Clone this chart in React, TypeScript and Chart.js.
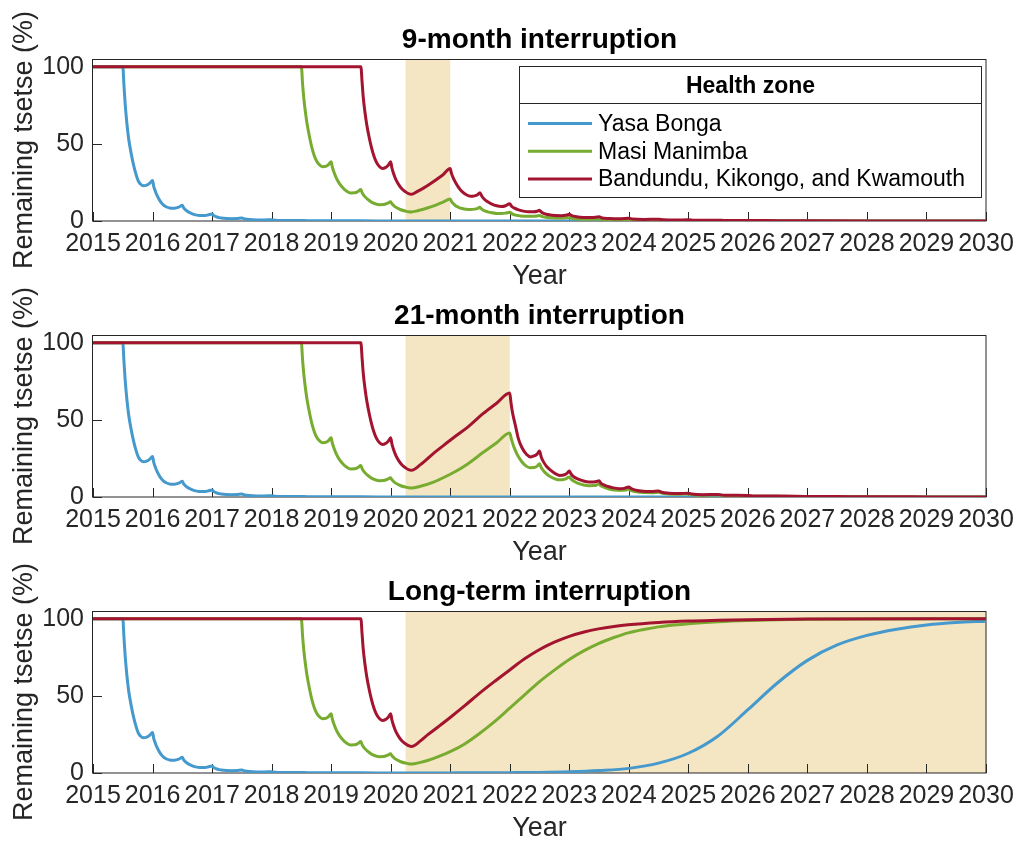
import React, { useEffect, useRef } from 'react';
import { Chart, registerables } from 'chart.js';

Chart.register(...registerables);

type Pt = [number, number];

// ---------- axis ticks and labels ----------
const YEAR_TICKS = [2015, 2016, 2017, 2018, 2019, 2020, 2021, 2022, 2023, 2024, 2025, 2026, 2027, 2028, 2029, 2030];
const PERCENT_TICKS = [0, 50, 100];
const ZONE_LABELS = ['Yasa Bonga', 'Masi Manimba', 'Bandundu, Kikongo, and Kwamouth'];
const LEGEND_TITLE = 'Health zone';
const PANEL_TITLES = ['9-month interruption', '21-month interruption', 'Long-term interruption'];
const X_TITLE = 'Year';
const Y_TITLE = 'Remaining tsetse (%)';

// interruption windows (years)
const INTERRUPTION_START = 2020.25;
const INTERRUPTION_ENDS = [2021.0, 2022.0, 2030.0];

// ---------- tsetse trajectories (% remaining) ----------
// Yasa Bonga under vector control until the interruption
const BLUE_CONTROLLED: Pt[] = [
  [2015, 100], [2015.5, 100], [2015.52, 88], [2015.54, 76], [2015.57, 63], [2015.6, 53], [2015.64, 44],
  [2015.68, 36.5], [2015.72, 30.5], [2015.76, 26], [2015.8, 23.8], [2015.85, 22.8], [2015.9, 23.2],
  [2015.95, 24.4], [2016.0, 26.2],
  [2016.02, 22.5], [2016.05, 19], [2016.08, 16.3], [2016.12, 13.4], [2016.17, 10.9], [2016.22, 9.4],
  [2016.28, 8.5], [2016.34, 8.2], [2016.4, 8.5], [2016.45, 9.1], [2016.5, 10.2],
  [2016.52, 8.7], [2016.56, 7.0], [2016.6, 5.9], [2016.66, 4.8], [2016.72, 4.0], [2016.79, 3.5],
  [2016.86, 3.5], [2016.93, 3.9], [2017.0, 4.6],
  [2017.03, 3.5], [2017.08, 2.6], [2017.15, 2.0], [2017.24, 1.6], [2017.33, 1.5], [2017.42, 1.6], [2017.5, 1.9],
  [2017.55, 1.3], [2017.63, 0.9], [2017.75, 0.7], [2017.88, 0.7], [2018.0, 0.85],
  [2018.06, 0.55], [2018.2, 0.35], [2018.4, 0.3], [2018.5, 0.38], [2018.6, 0.2], [2018.9, 0.15],
  [2019.0, 0.18], [2019.2, 0.1], [2019.5, 0.1], [2020.0, 0.05], [2020.25, 0.04],
];
const BLUE_RESUMED: Pt[] = [[2021, 0.03], [2024, 0.01], [2030, 0.0]];
const BLUE_NO_CONTROL: Pt[] = [
  [2020.5, 0.05], [2021, 0.08], [2021.5, 0.12], [2022, 0.22], [2022.5, 0.4], [2023, 0.8], [2023.5, 1.6],
  [2024, 3.0], [2024.5, 6.4], [2025, 12.8], [2025.5, 24], [2026, 41], [2026.5, 58.5], [2027, 73],
  [2027.5, 83], [2028, 89.2], [2028.5, 93.2], [2029, 95.9], [2029.5, 97.5], [2030, 98.4],
];

// Masi Manimba under vector control until the interruption
const GREEN_CONTROLLED: Pt[] = [
  [2015, 100], [2018.5, 100], [2018.52, 89], [2018.54, 80], [2018.57, 70], [2018.6, 62], [2018.64, 54],
  [2018.68, 47], [2018.72, 42], [2018.76, 38.6], [2018.81, 36.2], [2018.86, 35.2], [2018.92, 35.6],
  [2018.96, 36.7], [2019.0, 38.4],
  [2019.02, 35], [2019.05, 31.5], [2019.09, 27.6], [2019.14, 24.2], [2019.2, 21.4], [2019.26, 19.4],
  [2019.33, 18.2], [2019.4, 18.3], [2019.45, 19.1], [2019.5, 20.4],
  [2019.52, 18.4], [2019.56, 16.1], [2019.61, 14.1], [2019.67, 12.4], [2019.74, 11.2], [2019.81, 10.6],
  [2019.88, 10.7], [2019.94, 11.4], [2020.0, 12.5],
  [2020.02, 11.2], [2020.06, 9.7], [2020.11, 8.4], [2020.17, 7.3], [2020.25, 6.4],
];
const GREEN_AFTER_9M: Pt[] = [
  [2020.3, 6.0], [2020.35, 5.9], [2020.45, 6.6], [2020.55, 7.6], [2020.66, 9.0], [2020.77, 10.5],
  [2020.88, 12.2], [2021.0, 14.3],
  [2021.02, 12.8], [2021.05, 11.3], [2021.09, 9.9], [2021.14, 8.9], [2021.2, 8.1], [2021.27, 7.6],
  [2021.34, 7.4], [2021.41, 7.7], [2021.46, 8.2], [2021.5, 8.9],
  [2021.53, 7.7], [2021.57, 6.7], [2021.63, 5.9], [2021.7, 5.3], [2021.78, 4.9], [2021.86, 4.8],
  [2021.93, 5.1], [2022.0, 5.7],
  [2022.04, 4.6], [2022.1, 3.8], [2022.18, 3.3], [2022.28, 3.0], [2022.38, 3.0], [2022.45, 3.2], [2022.5, 3.6],
  [2022.55, 2.8], [2022.63, 2.2], [2022.75, 1.9], [2022.88, 1.9], [2023.0, 2.2],
  [2023.06, 1.6], [2023.2, 1.2], [2023.38, 1.1], [2023.5, 1.3],
  [2023.58, 0.9], [2023.8, 0.7], [2024.0, 0.8], [2024.1, 0.55], [2024.4, 0.45], [2024.5, 0.5],
  [2024.7, 0.3], [2025, 0.3], [2025.5, 0.18], [2026, 0.1], [2027, 0.05], [2030, 0.0],
];
const GREEN_AFTER_21M: Pt[] = [
  [2020.3, 6.0], [2020.35, 5.8], [2020.5, 7.0], [2020.72, 9.7], [2020.9, 12.8], [2021.11, 17.0],
  [2021.3, 21.6], [2021.55, 28.8], [2021.78, 35.2], [2022.0, 41.5],
  [2022.03, 37.2], [2022.06, 33.6], [2022.09, 30.5], [2022.13, 27.2], [2022.2, 23.0], [2022.27, 20.2],
  [2022.34, 19.0], [2022.41, 19.1], [2022.46, 20.0], [2022.5, 21.5],
  [2022.53, 19.0], [2022.57, 16.9], [2022.63, 14.6], [2022.7, 12.8], [2022.79, 11.4], [2022.87, 11.2],
  [2022.94, 11.8], [2023.0, 13.0],
  [2023.03, 11.6], [2023.08, 10.2], [2023.15, 8.8], [2023.24, 7.8], [2023.33, 7.3], [2023.41, 7.4],
  [2023.46, 7.8], [2023.5, 8.4],
  [2023.53, 7.3], [2023.59, 6.2], [2023.67, 5.2], [2023.77, 4.5], [2023.87, 4.3], [2023.94, 4.5], [2024.0, 5.0],
  [2024.04, 4.2], [2024.13, 3.4], [2024.25, 2.9], [2024.4, 2.8], [2024.5, 3.1],
  [2024.55, 2.5], [2024.67, 2.0], [2024.85, 1.8], [2025.0, 2.0],
  [2025.06, 1.5], [2025.25, 1.2], [2025.5, 1.25], [2025.6, 0.9], [2026.0, 0.8], [2026.1, 0.55],
  [2026.5, 0.5], [2027, 0.3], [2027.5, 0.2], [2028, 0.12], [2029, 0.05], [2030, 0.02],
];
const GREEN_NO_CONTROL: Pt[] = [
  [2020.3, 6.0], [2020.35, 5.8], [2020.5, 6.9], [2020.63, 8.3], [2020.8, 10.6], [2021.0, 13.8],
  [2021.25, 19.0], [2021.47, 25.0], [2021.75, 33.5], [2022.0, 42.0], [2022.25, 50.6], [2022.48, 58.6],
  [2022.75, 66.7], [2023.0, 73.6], [2023.25, 79.3], [2023.49, 83.9], [2023.75, 87.8], [2023.99, 90.8],
  [2024.25, 93.0], [2024.5, 94.7], [2024.75, 95.9], [2025.0, 96.8], [2025.5, 98.0], [2026.0, 98.8],
  [2026.5, 99.3], [2027, 99.6], [2028, 99.85], [2030, 100],
];

// Bandundu, Kikongo and Kwamouth under vector control until the interruption
const RED_CONTROLLED: Pt[] = [
  [2015, 100], [2019.5, 100], [2019.52, 90], [2019.54, 80], [2019.57, 70], [2019.6, 62], [2019.64, 54],
  [2019.68, 47.3], [2019.72, 42], [2019.76, 38.2], [2019.81, 35.3], [2019.86, 34.1], [2019.91, 34.6],
  [2019.96, 36.2], [2020.0, 38.4],
  [2020.02, 34.5], [2020.05, 30.6], [2020.09, 26.6], [2020.14, 23.3], [2020.2, 20.4], [2020.25, 18.9],
];
const RED_AFTER_9M: Pt[] = [
  [2020.3, 17.7], [2020.35, 17.3], [2020.45, 19.2], [2020.55, 21.3], [2020.66, 24.0], [2020.77, 26.9],
  [2020.88, 30.0], [2021.0, 34.0],
  [2021.02, 31.0], [2021.05, 28.0], [2021.09, 25.0], [2021.14, 21.8], [2021.2, 19.0], [2021.27, 17.0],
  [2021.34, 16.0], [2021.41, 16.3], [2021.46, 17.0], [2021.5, 18.3],
  [2021.53, 16.2], [2021.57, 14.3], [2021.63, 12.5], [2021.7, 11.0], [2021.78, 9.9], [2021.86, 9.4],
  [2021.93, 9.9], [2022.0, 11.2],
  [2022.03, 9.6], [2022.08, 8.3], [2022.15, 7.2], [2022.23, 6.4], [2022.32, 6.0], [2022.4, 6.0],
  [2022.46, 6.3], [2022.5, 6.9],
  [2022.53, 5.8], [2022.58, 4.8], [2022.66, 4.0], [2022.76, 3.5], [2022.87, 3.4], [2022.94, 3.7], [2023.0, 4.4],
  [2023.04, 3.5], [2023.12, 2.8], [2023.24, 2.3], [2023.38, 2.2], [2023.5, 2.7],
  [2023.55, 2.0], [2023.67, 1.6], [2023.85, 1.4], [2024.0, 1.75],
  [2024.06, 1.3], [2024.25, 1.0], [2024.5, 1.15], [2024.58, 0.8], [2024.8, 0.65], [2025.0, 0.8],
  [2025.1, 0.55], [2025.5, 0.5], [2025.6, 0.35], [2026, 0.3], [2026.5, 0.2], [2027, 0.15], [2028, 0.07],
  [2030, 0.01],
];
const RED_AFTER_21M: Pt[] = [
  [2020.3, 17.7], [2020.35, 17.3], [2020.5, 21.0], [2020.72, 28.3], [2020.9, 33.8], [2021.11, 40.0],
  [2021.3, 45.5], [2021.55, 54.0], [2021.78, 60.8], [2022.0, 67.4],
  [2022.02, 61.5], [2022.04, 56], [2022.07, 50.5], [2022.1, 45.5], [2022.14, 38.5], [2022.2, 32.4],
  [2022.28, 27.7], [2022.35, 26.0], [2022.41, 26.6], [2022.46, 27.8], [2022.5, 29.8],
  [2022.53, 25.8], [2022.57, 22.6], [2022.62, 19.8], [2022.68, 17.6], [2022.76, 15.3], [2022.84, 14.0],
  [2022.92, 14.4], [2022.96, 15.3], [2023.0, 16.8],
  [2023.03, 14.9], [2023.08, 13.0], [2023.15, 11.6], [2023.24, 10.4], [2023.33, 9.8], [2023.41, 9.8],
  [2023.46, 10.0], [2023.5, 10.5],
  [2023.53, 9.0], [2023.58, 7.8], [2023.65, 6.8], [2023.74, 5.9], [2023.84, 5.4], [2023.92, 5.6], [2024.0, 6.5],
  [2024.04, 5.4], [2024.12, 4.4], [2024.24, 3.7], [2024.38, 3.5], [2024.5, 3.9],
  [2024.55, 3.1], [2024.67, 2.5], [2024.85, 2.2], [2025.0, 2.5],
  [2025.06, 1.9], [2025.25, 1.5], [2025.5, 1.6], [2025.6, 1.15], [2026.0, 1.0], [2026.1, 0.7],
  [2026.5, 0.65], [2027, 0.4], [2027.5, 0.28], [2028, 0.18], [2029, 0.07], [2030, 0.03],
];
const RED_NO_CONTROL: Pt[] = [
  [2020.3, 17.7], [2020.35, 17.2], [2020.5, 20.8], [2020.63, 25.0], [2020.8, 30.0], [2021.0, 36.0],
  [2021.25, 43.8], [2021.47, 51.0], [2021.75, 59.5], [2022.0, 66.8], [2022.25, 74.0], [2022.48, 79.6],
  [2022.75, 84.8], [2023.0, 88.6], [2023.25, 91.4], [2023.49, 93.4], [2023.75, 95.0], [2023.99, 96.1],
  [2024.5, 97.6], [2025.0, 98.5], [2025.5, 99.0], [2026, 99.4], [2027, 99.8], [2030, 100],
];

// ---------- styling ----------
const FONT = "'Liberation Sans', Arial, Helvetica, sans-serif";
const ZONE_COLORS = ['#4599cc', '#77ac30', '#a2142f'];
const SHADE = '#f5e6c3';
const AXIS_COLOR = '#262626';
const TEXT_COLOR = '#262626';
const WIDTH = 1018;
const PANEL_STEP = 276;
const CANVAS_H = 295;
const PLOT_TOP = 59;
const PLOT_BOTTOM = 221;
const PLOT_LEFT = 93;
const PLOT_RIGHT = 986;
const TITLE_Y = 40;
const TICK_FONT = 25;
const LABEL_FONT = 27;
const TITLE_FONT = 28;

const PANEL_SERIES: Pt[][][] = [
  [BLUE_CONTROLLED.concat(BLUE_RESUMED), GREEN_CONTROLLED.concat(GREEN_AFTER_9M), RED_CONTROLLED.concat(RED_AFTER_9M)],
  [BLUE_CONTROLLED.concat(BLUE_RESUMED), GREEN_CONTROLLED.concat(GREEN_AFTER_21M), RED_CONTROLLED.concat(RED_AFTER_21M)],
  [BLUE_CONTROLLED.concat(BLUE_NO_CONTROL), GREEN_CONTROLLED.concat(GREEN_NO_CONTROL), RED_CONTROLLED.concat(RED_NO_CONTROL)],
];

// shading, frame and inward ticks under the lines; title and legend over them
const framePlugin = {
  id: 'frame',
  beforeDatasetsDraw(chart: any, _args: any, opts: any) {
    const { ctx, chartArea: a, scales } = chart;
    const xs = scales.x;
    const ys = scales.y;
    ctx.save();
    const x0 = xs.getPixelForValue(opts.shadeFrom);
    const x1 = xs.getPixelForValue(opts.shadeTo);
    ctx.fillStyle = SHADE;
    ctx.fillRect(x0, a.top, x1 - x0, a.bottom - a.top);

    ctx.strokeStyle = AXIS_COLOR;
    ctx.lineWidth = 1;
    ctx.strokeRect(Math.round(a.left) - 0.5, Math.round(a.top) + 0.5, Math.round(a.right - a.left) + 0.5, Math.round(a.bottom - a.top) - 0.5);

    ctx.beginPath();
    const tl = 9;
    for (const v of YEAR_TICKS) {
      const px = Math.round(xs.getPixelForValue(v)) + 0.5;
      ctx.moveTo(px, a.bottom);
      ctx.lineTo(px, a.bottom - tl);
    }
    for (const v of PERCENT_TICKS) {
      const py = Math.round(ys.getPixelForValue(v)) + 0.5;
      ctx.moveTo(a.left, py);
      ctx.lineTo(a.left + tl, py);
    }
    ctx.stroke();
    ctx.restore();
  },
  afterDatasetsDraw(chart: any, _args: any, opts: any) {
    const { ctx, chartArea: a } = chart;
    ctx.save();
    // panel title, centred over the plotting area
    ctx.fillStyle = '#000000';
    ctx.textBaseline = 'middle';
    ctx.textAlign = 'center';
    ctx.font = `bold ${TITLE_FONT}px ${FONT}`;
    ctx.fillText(opts.title, (a.left + a.right) / 2, TITLE_Y);

    if (opts.legend) {
      const left = 519.5, top = 66.5, right = 981.5, bottom = 197.5, sep = 103.5;
      ctx.fillStyle = '#ffffff';
      ctx.fillRect(left, top, right - left, bottom - top);
      ctx.strokeStyle = AXIS_COLOR;
      ctx.lineWidth = 1;
      ctx.strokeRect(left, top, right - left, bottom - top);
      ctx.beginPath();
      ctx.moveTo(left, sep);
      ctx.lineTo(right, sep);
      ctx.stroke();

      ctx.fillStyle = '#000000';
      ctx.textAlign = 'center';
      ctx.font = `bold 23px ${FONT}`;
      ctx.fillText(LEGEND_TITLE, (left + right) / 2, 86.5);

      ctx.textAlign = 'left';
      ctx.font = `23px ${FONT}`;
      chart.data.datasets.forEach((ds: any, i: number) => {
        const y = 123.5 + i * 27.8;
        ctx.strokeStyle = ds.borderColor;
        ctx.lineWidth = ds.borderWidth;
        ctx.beginPath();
        ctx.moveTo(528, y);
        ctx.lineTo(592, y);
        ctx.stroke();
        ctx.fillStyle = '#000000';
        ctx.fillText(ds.label, 598, y + 1);
      });
    }
    ctx.restore();
  },
};

function buildConfig(panel: number): any {
  const series = PANEL_SERIES[panel];
  return {
    type: 'line',
    data: {
      datasets: series.map((pts, i) => ({
        label: ZONE_LABELS[i],
        data: pts.map(([x, y]) => ({ x, y })),
        borderColor: ZONE_COLORS[i],
        backgroundColor: ZONE_COLORS[i],
        borderWidth: 3,
        pointRadius: 0,
        fill: false,
        cubicInterpolationMode: 'monotone',
        order: 2 - i,
      })),
    },
    options: {
      animation: false,
      responsive: false,
      devicePixelRatio: 1,
      events: [],
      layout: { padding: { left: 0, right: WIDTH - PLOT_RIGHT, top: PLOT_TOP, bottom: 0 } },
      plugins: {
        legend: { display: false },
        tooltip: { enabled: false },
        title: { display: false },
        frame: {
          title: PANEL_TITLES[panel],
          shadeFrom: INTERRUPTION_START,
          shadeTo: INTERRUPTION_ENDS[panel],
          legend: panel === 0,
        },
      },
      scales: {
        x: {
          type: 'linear',
          min: YEAR_TICKS[0],
          max: YEAR_TICKS[YEAR_TICKS.length - 1],
          afterBuildTicks: (s: any) => { s.ticks = YEAR_TICKS.map((v) => ({ value: v })); },
          afterFit: (s: any) => {
            s.height = CANVAS_H - PLOT_BOTTOM;
            s.paddingLeft = 0;
            s.paddingRight = 0;
          },
          grid: { display: false, drawTicks: false },
          border: { display: false },
          ticks: {
            autoSkip: false,
            maxRotation: 0,
            minRotation: 0,
            padding: 8,
            color: TEXT_COLOR,
            font: { family: FONT, size: TICK_FONT },
            callback: (v: any) => String(v),
          },
          title: {
            display: true,
            text: X_TITLE,
            color: TEXT_COLOR,
            font: { family: FONT, size: LABEL_FONT },
            padding: { top: 0, bottom: 2 },
          },
        },
        y: {
          type: 'linear',
          min: 0,
          max: 105,
          afterBuildTicks: (s: any) => { s.ticks = PERCENT_TICKS.map((v) => ({ value: v })); },
          afterFit: (s: any) => {
            s.width = PLOT_LEFT;
            s.paddingTop = 0;
            s.paddingBottom = 0;
          },
          grid: { display: false, drawTicks: false },
          border: { display: false },
          ticks: {
            padding: 9,
            color: TEXT_COLOR,
            font: { family: FONT, size: TICK_FONT },
            callback: (v: any) => String(v),
          },
          title: {
            display: true,
            text: Y_TITLE,
            color: TEXT_COLOR,
            font: { family: FONT, size: LABEL_FONT },
            padding: { top: 8, bottom: 0 },
          },
        },
      },
    },
    plugins: [framePlugin],
  };
}

export default function App() {
  const ref0 = useRef<HTMLCanvasElement>(null);
  const ref1 = useRef<HTMLCanvasElement>(null);
  const ref2 = useRef<HTMLCanvasElement>(null);
  const refs = [ref0, ref1, ref2];

  useEffect(() => {
    const charts = refs.map((r, i) => new Chart(r.current as HTMLCanvasElement, buildConfig(i)));
    return () => charts.forEach((c) => c.destroy());
  }, []);

  return (
    <div style={{ position: 'fixed', left: 0, top: 0, width: WIDTH, height: 843, overflow: 'hidden', background: '#ffffff' }}>
      {refs.map((r, i) => (
        <canvas
          key={i}
          ref={r}
          width={WIDTH}
          height={CANVAS_H}
          style={{ position: 'absolute', left: 0, top: i * PANEL_STEP, width: WIDTH, height: CANVAS_H }}
        />
      ))}
    </div>
  );
}
